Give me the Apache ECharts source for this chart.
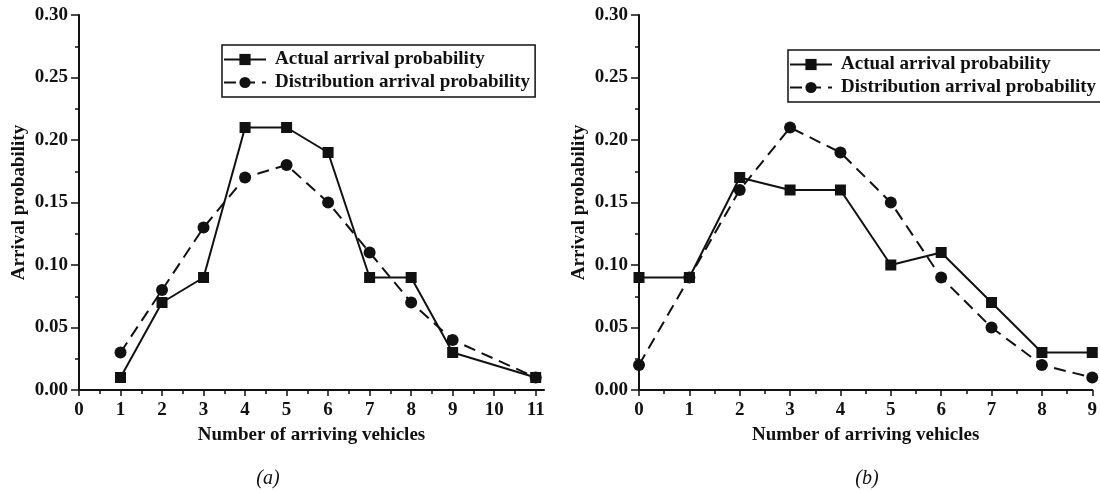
<!DOCTYPE html>
<html>
<head>
<meta charset="utf-8">
<script src="https://cdn.jsdelivr.net/npm/echarts@6/dist/echarts.min.js"></script>
<style>
  html, body { margin: 0; padding: 0; background: #fff; }
  #main { width: 1100px; height: 490px; }
</style>
</head>
<body>
<div id="main"></div>
<script>
// (a) data
const xA = [1, 2, 3, 4, 5, 6, 7, 8, 9, 11];
const actualA = [0.01, 0.07, 0.09, 0.21, 0.21, 0.19, 0.09, 0.09, 0.03, 0.01];
const distA = [0.03, 0.08, 0.13, 0.17, 0.18, 0.15, 0.11, 0.07, 0.04, 0.01];

// (b) data
const xB = [0, 1, 2, 3, 4, 5, 6, 7, 8, 9];
const actualB = [0.09, 0.09, 0.17, 0.16, 0.16, 0.10, 0.11, 0.07, 0.03, 0.03];
const distB = [0.02, 0.09, 0.16, 0.21, 0.19, 0.15, 0.09, 0.05, 0.02, 0.01];

const xTicksA = [0, 1, 2, 3, 4, 5, 6, 7, 8, 9, 10, 11];
const nameActual = "Actual arrival probability";
const nameDist = "Distribution arrival probability";

const font = "'Liberation Serif', 'Times New Roman', serif";
const pair = (xs, ys) => xs.map((x, i) => [x, ys[i]]);

function xAxis(gridIndex, max, ticks) {
  const ax = {
    type: "value",
    gridIndex,
    min: 0,
    max,
    interval: 1,
    name: "Number of arriving vehicles",
    nameLocation: "middle",
    nameGap: 36,
    nameTextStyle: { fontFamily: font, fontWeight: "bold", fontSize: 19, color: "#111" },
    axisLine: { show: true, lineStyle: { color: "#111", width: 2 } },
    axisTick: { show: true, length: 6, lineStyle: { color: "#111", width: 1.5 } },
    minorTick: { show: true, splitNumber: 2, length: 4, lineStyle: { color: "#111", width: 1.5 } },
    splitLine: { show: false },
    axisLabel: { margin: 11, fontFamily: font, fontWeight: "bold", fontSize: 19, color: "#111" },
  };
  if (ticks) {
    ax.axisTick.customValues = ticks;
    ax.axisLabel.customValues = ticks;
  }
  return ax;
}

function yAxis(gridIndex) {
  return {
    type: "value",
    gridIndex,
    min: 0,
    max: 0.3,
    interval: 0.05,
    name: "Arrival probability",
    nameLocation: "middle",
    nameGap: 50,
    nameTextStyle: { fontFamily: font, fontWeight: "bold", fontSize: 19, color: "#111" },
    axisLine: { show: true, lineStyle: { color: "#111", width: 2 } },
    axisTick: { show: true, length: 8, lineStyle: { color: "#111", width: 1.5 } },
    minorTick: { show: true, splitNumber: 2, length: 4, lineStyle: { color: "#111", width: 1.5 } },
    splitLine: { show: false },
    axisLabel: {
      margin: 11,
      fontFamily: font,
      fontWeight: "bold",
      fontSize: 19,
      color: "#111",
      formatter: (v) => v.toFixed(2),
    },
  };
}

function series(name, data, idx, dashed) {
  return {
    name,
    type: "line",
    xAxisIndex: idx,
    yAxisIndex: idx,
    data,
    symbol: dashed ? "circle" : "rect",
    symbolSize: dashed ? 12 : 11,
    itemStyle: { color: "#111" },
    lineStyle: { color: "#111", width: 2, type: dashed ? [12, 7] : "solid" },
    animation: false,
  };
}

function legend(left, top) {
  return {
    orient: "vertical",
    left,
    top,
    data: [nameActual, nameDist],
    itemWidth: 42,
    itemHeight: 14,
    itemGap: 4,
    padding: [5, 5, 5, 1],
    borderColor: "#111",
    borderWidth: 1.5,
    selectedMode: false,
    textStyle: { fontFamily: font, fontWeight: "bold", fontSize: 19, lineHeight: 19, color: "#111", padding: [0, 0, 0, 4] },
  };
}

const chart = echarts.init(document.getElementById("main"));
chart.setOption({
  backgroundColor: "#fff",
  title: [
    { text: "(a)", left: 263, top: 464, textAlign: "center",
      textStyle: { fontFamily: font, fontStyle: "italic", fontWeight: "normal", fontSize: 20, color: "#111" } },
    { text: "(b)", left: 862, top: 464, textAlign: "center",
      textStyle: { fontFamily: font, fontStyle: "italic", fontWeight: "normal", fontSize: 20, color: "#111" } },
  ],
  legend: [legend(222, 45), legend(788, 50)],
  grid: [
    { left: 79, top: 15, width: 465, bottom: 100 },
    { left: 639, top: 15, width: 454, bottom: 100 },
  ],
  xAxis: [xAxis(0, 11.2, xTicksA), xAxis(1, 9)],
  yAxis: [yAxis(0), yAxis(1)],
  series: [
    series(nameActual, pair(xA, actualA), 0, false),
    series(nameDist, pair(xA, distA), 0, true),
    series(nameActual, pair(xB, actualB), 1, false),
    series(nameDist, pair(xB, distB), 1, true),
  ],
});
</script>
</body>
</html>
